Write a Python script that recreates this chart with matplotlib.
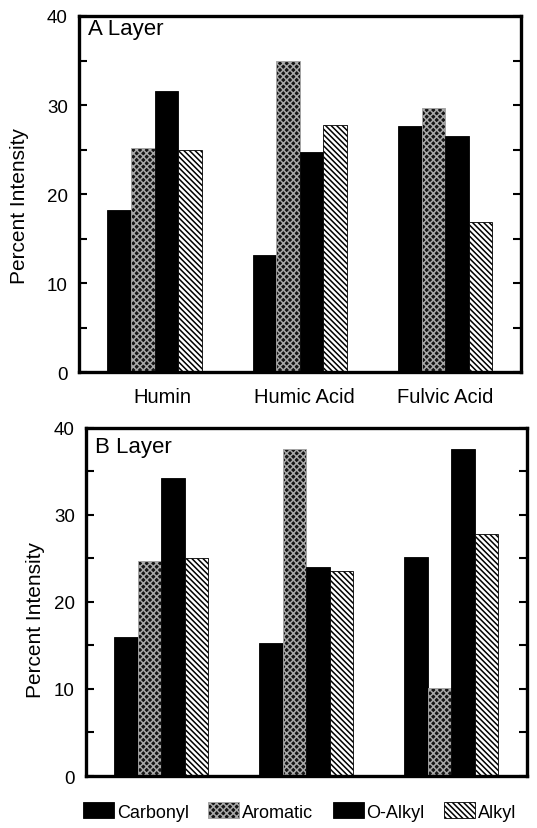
import numpy as np
import matplotlib
matplotlib.use('Agg')
import matplotlib.pyplot as plt
from matplotlib.patches import Patch

plt.rcParams['font.family'] = ['Liberation Sans', 'DejaVu Sans']
plt.rcParams['hatch.linewidth'] = 1.1

# percent intensity of each carbon type per fraction
fractions = ['Humin', 'Humic Acid', 'Fulvic Acid']
series = ['Carbonyl', 'Aromatic', 'O-Alkyl', 'Alkyl']

layer_a = {
    'Carbonyl': [18.2, 13.2, 27.6],
    'Aromatic': [25.2, 34.9, 29.7],
    'O-Alkyl': [31.6, 24.7, 26.5],
    'Alkyl': [25.0, 27.7, 16.9],
}
layer_b = {
    'Carbonyl': [16.0, 15.3, 25.2],
    'Aromatic': [24.7, 37.6, 10.1],
    'O-Alkyl': [34.2, 24.0, 37.6],
    'Alkyl': [25.0, 23.5, 27.8],
}

# bar looks: face colour, hatch, hatch colour
styles = {
    'Carbonyl': dict(facecolor='black', hatch=None, edgecolor='black'),
    'Aromatic': dict(facecolor='#151515', hatch='xxxxx', edgecolor='#a8a8a8'),
    'O-Alkyl': dict(facecolor='black', hatch=None, edgecolor='black'),
    'Alkyl': dict(facecolor='white', hatch='\\\\\\\\\\\\', edgecolor='black'),
}

fig = plt.figure(figsize=(5.37, 8.29), dpi=100)
ax_a = fig.add_axes([0.147, 0.550, 0.823, 0.4295])
ax_b = fig.add_axes([0.160, 0.0627, 0.821, 0.420])

width = 0.162
x = np.arange(len(fractions))


def draw_panel(ax, data, title, label_x, label_y, title_y):
    for i, s in enumerate(series):
        st = styles[s]
        ax.bar(x + (i - 1.5) * width, data[s], width, facecolor=st['facecolor'],
               hatch=st['hatch'], edgecolor=st['edgecolor'], linewidth=0.6)
    ax.set_xlim(-0.52, 2.52)
    ax.set_ylim(0, 40)
    ax.set_yticks([0, 10, 20, 30, 40])
    ax.set_yticks([5, 15, 25, 35], minor=True)
    ax.tick_params(axis='y', which='both', direction='in', left=True, right=True,
                   length=6, width=1.5, labelsize=13.5, pad=8)
    for sp in ax.spines.values():
        sp.set_linewidth(2.4)
    ax.set_ylabel('Percent Intensity', fontsize=15)
    ax.yaxis.set_label_coords(label_x, label_y)
    ax.text(0.02, title_y, title, transform=ax.transAxes, fontsize=16,
            va='center', ha='left')


draw_panel(ax_a, layer_a, 'A Layer', -0.112, 0.47, 0.965)
draw_panel(ax_b, layer_b, 'B Layer', -0.093, 0.45, 0.945)

ax_a.set_xticks([0.055, 1.03, 2.0])
ax_a.set_xticklabels(fractions, fontsize=14.5)
ax_a.tick_params(axis='x', length=0, pad=11)
ax_b.set_xticks([])

handles = [Patch(facecolor=styles[s]['facecolor'], hatch=styles[s]['hatch'],
                 edgecolor=styles[s]['edgecolor'], linewidth=0.6) for s in series]
fig.legend(handles, series, loc='center left', bbox_to_anchor=(0.155, 0.02),
           ncol=4, frameon=False, fontsize=13, handlelength=1.7, handleheight=1.0,
           handletextpad=0.15, columnspacing=1.1, borderpad=0, borderaxespad=0)

fig.savefig('out.png', dpi=100)
